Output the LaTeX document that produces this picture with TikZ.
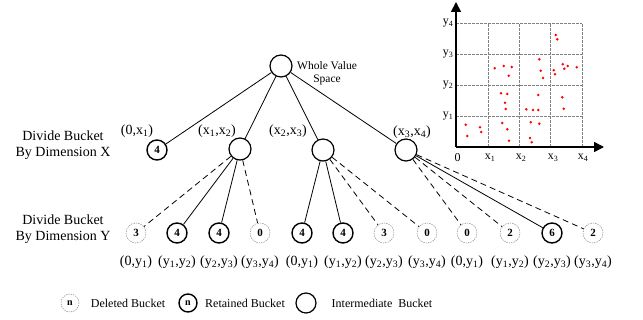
\documentclass[tikz,border=0pt]{standalone}
\usepackage{fontspec}
\setmainfont{Liberation Serif}
\usetikzlibrary{arrows.meta}
\newcommand{\sub}[1]{\textsubscript{#1}}
\begin{document}
\begin{tikzpicture}[x=1pt,y=-1pt,
  inter/.style={circle,draw,line width=1.2pt,minimum size=22pt,inner sep=0pt},
  kept/.style={circle,draw,line width=1.4pt,minimum size=20pt,inner sep=0pt,
    font=\bfseries\fontsize{11}{11}\selectfont},
  gone/.style={circle,draw=gray,line width=0.5pt,dash pattern=on 1.3pt off 1.1pt,
    minimum size=20pt,inner sep=0pt,font=\bfseries\fontsize{11}{11}\selectfont},
  link/.style={line width=0.8pt},
  dlink/.style={line width=0.8pt,dash pattern=on 6pt off 4pt},
  lab/.style={font=\fontsize{14}{16.5}\selectfont,inner sep=0pt,align=center},
  small/.style={font=\fontsize{11.5}{13}\selectfont,inner sep=0pt,align=center},
  axlab/.style={font=\fontsize{12}{12}\selectfont,inner sep=0pt},
  grid line/.style={draw=gray,line width=0.5pt,dash pattern=on 2.5pt off 1.5pt},
  axis/.style={line width=1.5pt,-{Triangle[length=10pt,width=10pt]}},
  pt/.style={fill=red,draw=none}
]
\useasboundingbox (0,0) rectangle (643,320);

% tree: root and the split along X
\node[inter] (root) at (281,66) {};
\node[small,anchor=west] (whole) at (297,73) {Whole Value\\Space};

\node[kept]  (a) at (157,150) {4};
\node[inter] (b) at (240,149) {};
\node[inter] (c) at (323,150) {};
\node[inter] (d) at (406,150) {};

\node[lab] (la) at (137,131) {(0,x\sub{1})};
\node[lab] (lb) at (217,131) {(x\sub{1},x\sub{2})};
\node[lab] (lc) at (288,131) {(x\sub{2},x\sub{3})};
\node[lab] (ld) at (412,132) {(x\sub{3},x\sub{4})};

\foreach \n in {a,b,c,d} \draw[link] (root) -- (\n);

% split along Y
\node[gone] (b1) at (136,233) {3};
\node[kept] (b2) at (177,233) {4};
\node[kept] (b3) at (219,233) {4};
\node[gone] (b4) at (260,233) {0};
\node[kept] (c1) at (302,233) {4};
\node[kept] (c2) at (343,233) {4};
\node[gone] (c3) at (384,233) {3};
\node[gone] (c4) at (427,233) {0};
\node[gone] (d1) at (467,233) {0};
\node[gone] (d2) at (510,233) {2};
\node[kept] (d3) at (552,233) {6};
\node[gone] (d4) at (593,233) {2};

\draw[dlink] (b) -- (b1);
\draw[link]  (b) -- (b2);
\draw[link]  (b) -- (b3);
\draw[dlink] (b) -- (b4);
\draw[link]  (c) -- (c1);
\draw[link]  (c) -- (c2);
\draw[dlink] (c) -- (c3);
\draw[dlink] (c) -- (c4);
\draw[dlink] (d) -- (d1);
\draw[dlink] (d) -- (d2);
\draw[link]  (d) -- (d3);
\draw[dlink] (d) -- (d4);

\foreach \n/\t in {b1/{(0,y\sub{1})},b2/{(y\sub{1},y\sub{2})},b3/{(y\sub{2},y\sub{3})},b4/{(y\sub{3},y\sub{4})},
                   c1/{(0,y\sub{1})},c2/{(y\sub{1},y\sub{2})},c3/{(y\sub{2},y\sub{3})},c4/{(y\sub{3},y\sub{4})},
                   d1/{(0,y\sub{1})},d2/{(y\sub{1},y\sub{2})},d3/{(y\sub{2},y\sub{3})},d4/{(y\sub{3},y\sub{4})}}
  \node[lab] (t\n) at ([yshift=-29pt]\n) {\t};

% row captions
\node[lab] (capx) at (63,145) {Divide Bucket\\By Dimension X};
\node[lab] (capy) at (63,229) {Divide Bucket\\By Dimension Y};

% scatter plot of the value space
\foreach \y in {23,54,85,116} \draw[grid line] (456,\y) -- (582,\y);
\foreach \x in {488,519,550,582} \draw[grid line] (\x,147) -- (\x,23);
\coordinate (O) at (456,147);
\coordinate (xe) at (604,147);
\coordinate (ye) at (456,2);
\draw[axis] (O) -- (xe);
\draw[axis] (O) -- (ye);

\node[axlab] (l0) at (457.5,158) {0};
\node[axlab] (lx1) at (490,158) {x\sub{1}};
\node[axlab] (lx2) at (521,158) {x\sub{2}};
\node[axlab] (lx3) at (553,158) {x\sub{3}};
\node[axlab] (lx4) at (583,158) {x\sub{4}};
\node[axlab] (ly4) at (448,23) {y\sub{4}};
\node[axlab] (ly3) at (448,54) {y\sub{3}};
\node[axlab] (ly2) at (448,85) {y\sub{2}};
\node[axlab] (ly1) at (448,116) {y\sub{1}};

\foreach \x/\y in {465.7/124.7,467.3/136,480/127.3,481.3/132,502.3/123,507.3/129.3,509/140.7,
                   530/138,531.7/142.3,530.7/122.3,539.3/123.7,
                   501/93.3,507.3/94,505/102.7,505.7/109,526.3/109.3,533/110,538.3/110,538.3/95,
                   562.3/97.3,563.7/108.7,
                   494.7/68.3,503.7/66,511.7/67,508.7/75.7,539.3/59.3,540.7/70.7,543/78,
                   553.7/70.3,555/74.3,562.7/64.3,564.3/68.7,567.7/66,576.7/67.3,
                   555.7/35,557.3/39.3}
  \fill[pt] (\x,\y) circle (1.4);

% legend
\node[gone,minimum size=18pt,font=\bfseries\fontsize{10}{10}\selectfont] (kd) at (70,303) {n};
\node[small,font=\fontsize{12}{12}\selectfont] (td) at (128,303) {Deleted Bucket};
\node[kept,minimum size=18pt,font=\bfseries\fontsize{10}{10}\selectfont] (kr) at (188,303) {n};
\node[small,font=\fontsize{12}{12}\selectfont] (tr) at (245,303) {Retained Bucket};
\node[inter,minimum size=20pt] (ki) at (306,303) {};
\node[small,font=\fontsize{12}{12}\selectfont] (ti) at (382,303) {Intermediate\ \ Bucket};
\end{tikzpicture}
\end{document}
